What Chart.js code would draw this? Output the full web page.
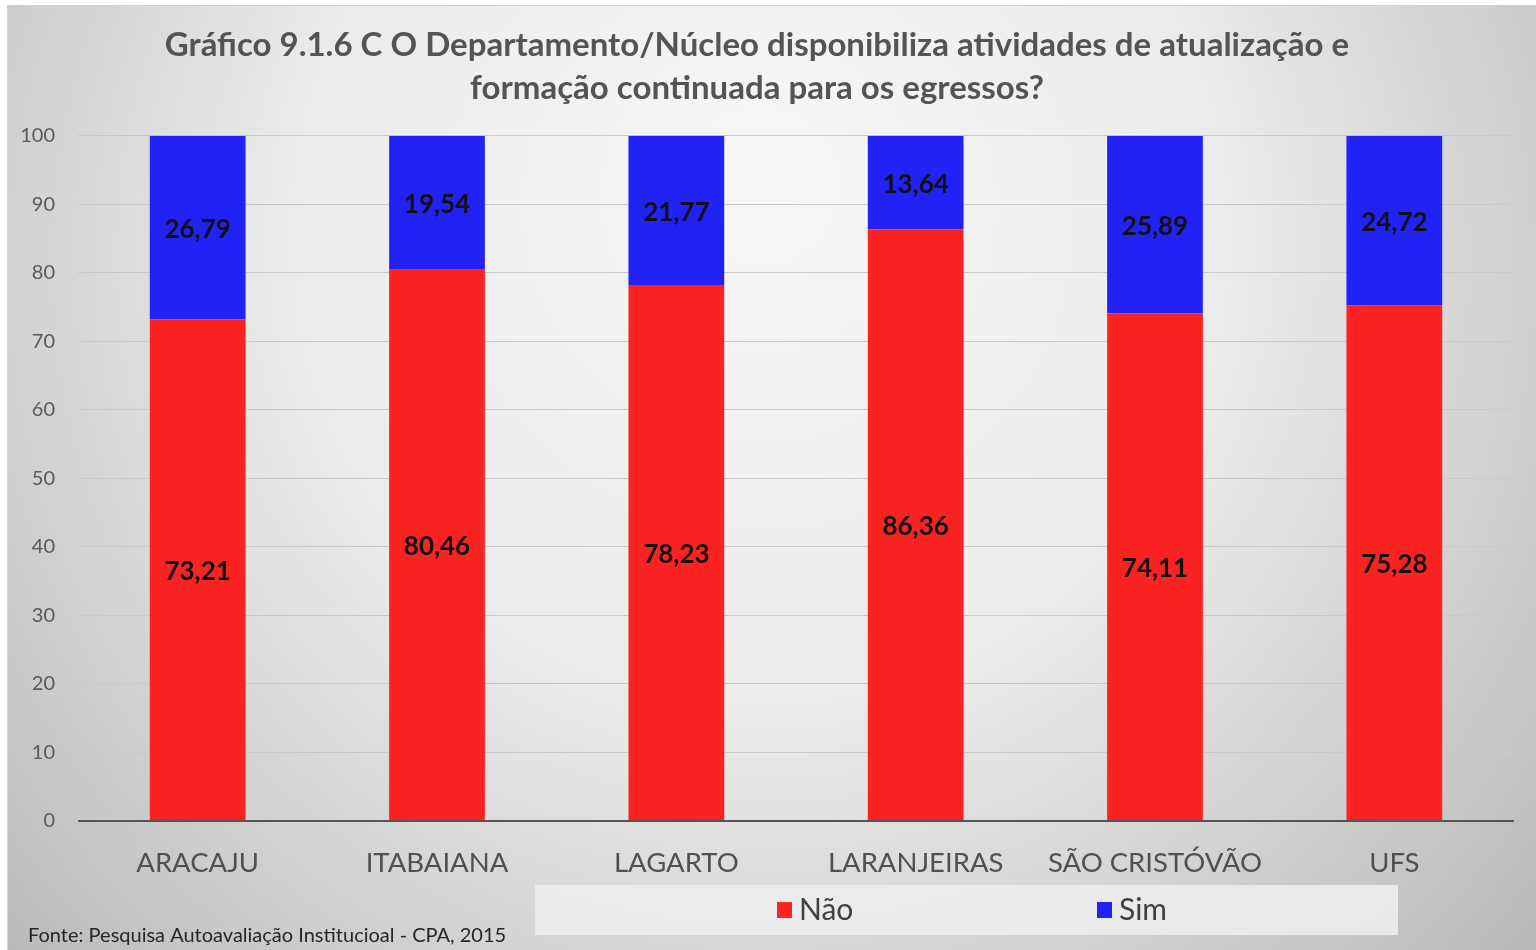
<!DOCTYPE html>
<html>
<head>
<meta charset="utf-8">
<title>Gráfico 9.1.6 C</title>
<script src="https://cdn.jsdelivr.net/npm/chart.js@4/dist/chart.umd.min.js"></script>
<style>
  html, body { margin: 0; padding: 0; background: #ffffff; }
  #wrap { position: absolute; left: 0; top: 0; width: 1536px; height: 950px; }
</style>
</head>
<body>
<div id="wrap"><canvas id="chart" width="1536" height="950"></canvas></div>
<script>
// Campi surveyed and the share of answers for each option (%)
const campi = ['ARACAJU', 'ITABAIANA', 'LAGARTO', 'LARANJEIRAS', 'SÃO CRISTÓVÃO', 'UFS'];
const nao = [73.21, 80.46, 78.23, 86.36, 74.11, 75.28];
const sim = [26.79, 19.54, 21.77, 13.64, 25.89, 24.72];
const seriesNames = ['Não', 'Sim'];
const yTicks = [0, 10, 20, 30, 40, 50, 60, 70, 80, 90, 100];
const titleLines = [
  'Gráfico 9.1.6 C O Departamento/Núcleo disponibiliza atividades de atualização e',
  'formação continuada para os egressos?'
];
const sourceNote = 'Fonte: Pesquisa Autoavaliação Institucioal - CPA, 2015';

const RED = '#FB2222';
const BLUE = '#2222F6';
const FONT = 'Lato, "Open Sans", "DejaVu Sans", sans-serif';

// Grey radial backdrop behind the whole figure
const backdrop = {
  id: 'backdrop',
  beforeDraw(chart) {
    const ctx = chart.ctx;
    const w = chart.width, h = chart.height;
    ctx.save();
    ctx.fillStyle = '#ffffff';
    ctx.fillRect(0, 0, w, h);
    const g = ctx.createRadialGradient(760, 180, 40, 760, 300, 1000);
    g.addColorStop(0, '#f6f6f6');
    g.addColorStop(0.45, '#ebebeb');
    g.addColorStop(1, '#bababa');
    ctx.fillStyle = g;
    ctx.fillRect(7, 5, w - 7, h - 5);
    ctx.strokeStyle = '#d0d0d0';
    ctx.lineWidth = 1;
    ctx.beginPath();
    ctx.moveTo(7, 5.5); ctx.lineTo(w, 5.5);
    ctx.moveTo(7.5, 5); ctx.lineTo(7.5, h);
    ctx.stroke();
    ctx.restore();
  }
};

// Values written in the middle of each stacked segment
const segmentLabels = {
  id: 'segmentLabels',
  afterDatasetsDraw(chart) {
    const ctx = chart.ctx;
    ctx.save();
    ctx.font = 'bold 26px ' + FONT;
    ctx.fillStyle = '#111111';
    ctx.textAlign = 'center';
    ctx.textBaseline = 'middle';
    chart.data.datasets.forEach((ds, i) => {
      const meta = chart.getDatasetMeta(i);
      meta.data.forEach((bar, j) => {
        const v = ds.data[j];
        const cy = (bar.y + bar.base) / 2 + 2;
        ctx.fillText(v.toFixed(2).replace('.', ','), bar.x, cy);
      });
    });
    ctx.restore();
  }
};

// Legend strip and source note below the axis
const footer = {
  id: 'footer',
  afterDraw(chart) {
    const ctx = chart.ctx;
    ctx.save();
    const boxL = 535, boxT = 885, boxW = 863, boxH = 50;
    ctx.fillStyle = 'rgba(236,236,236,0.9)';
    ctx.fillRect(boxL, boxT, boxW, boxH);
    ctx.font = '30px ' + FONT;
    ctx.textBaseline = 'middle';
    ctx.textAlign = 'left';
    chart.data.datasets.forEach((ds, i) => {
      const x = boxL + 242 + i * 320;
      const cy = boxT + 25;
      ctx.fillStyle = ds.backgroundColor;
      ctx.fillRect(x, cy - 8, 15, 16);
      ctx.fillStyle = '#404040';
      ctx.fillText(ds.label, x + 22, cy);
    });
    ctx.font = '20px ' + FONT;
    ctx.fillStyle = '#262626';
    ctx.textBaseline = 'alphabetic';
    ctx.fillText(sourceNote, 28, 942);
    ctx.restore();
  }
};

new Chart(document.getElementById('chart'), {
  type: 'bar',
  data: {
    labels: campi,
    datasets: [
      { label: seriesNames[0], data: nao, backgroundColor: RED, borderWidth: 0 },
      { label: seriesNames[1], data: sim, backgroundColor: BLUE, borderWidth: 0 }
    ]
  },
  options: {
    responsive: false,
    devicePixelRatio: 1,
    animation: false,
    layout: { padding: { left: 0, right: 22, top: 0, bottom: 73 } },
    datasets: { bar: { categoryPercentage: 0.8, barPercentage: 0.5 } },
    plugins: {
      legend: { display: false },
      tooltip: { enabled: false },
      title: {
        display: true,
        text: titleLines,
        color: '#545454',
        font: { family: FONT, size: 33, weight: 'bold', lineHeight: 1.3 },
        padding: { top: 24, bottom: 26 }
      }
    },
    scales: {
      x: {
        stacked: true,
        grid: { display: false, drawTicks: false },
        border: { display: false },
        ticks: { color: '#505050', font: { family: FONT, size: 27.5 }, padding: 26, maxRotation: 0 },
        afterFit(scale) { scale.height = 56; }
      },
      y: {
        stacked: true,
        min: 0,
        max: 100,
        afterBuildTicks(scale) { scale.ticks = yTicks.map(v => ({ value: v })); },
        grid: {
          drawTicks: false,
          color: ctx => (ctx.tick && ctx.tick.value === 0) ? '#555555' : '#c9c9c9',
          lineWidth: ctx => (ctx.tick && ctx.tick.value === 0) ? 2 : 1
        },
        border: { display: false },
        ticks: { color: '#595959', font: { family: FONT, size: 20 }, padding: 23 },
        afterFit(scale) { scale.width = 78; }
      }
    }
  },
  plugins: [backdrop, segmentLabels, footer]
});
</script>
</body>
</html>
